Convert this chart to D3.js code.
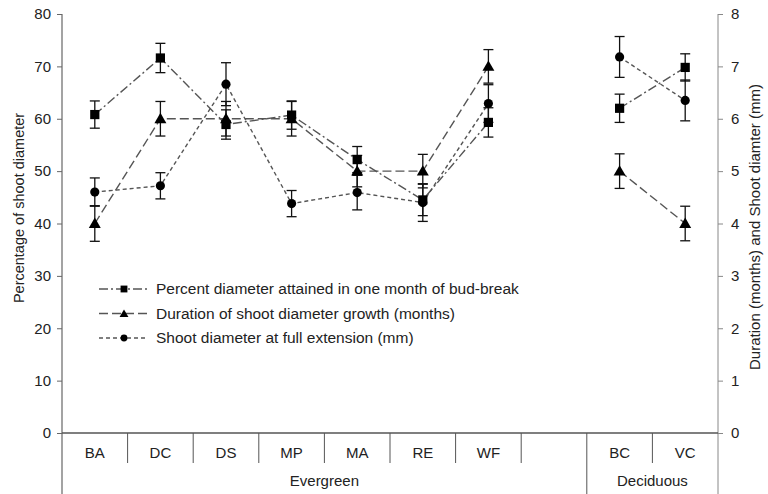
<!DOCTYPE html>
<html>
<head>
<meta charset="utf-8">
<script src="https://cdn.jsdelivr.net/npm/d3@7"></script>
<style>
  body { margin: 0; background: #fff; }
  text { font-family: "Liberation Sans", Arial, sans-serif; fill: #222; }
</style>
</head>
<body>
<div class="chart"></div>
<script>
// categories (the blank slot separates the two groups)
const categories = ["BA", "DC", "DS", "MP", "MA", "RE", "WF", "_", "BC", "VC"];
const groups = [
  { name: "Evergreen", first: "BA", last: "_" },
  { name: "Deciduous", first: "BC", last: "VC" }
];
const leftTicks = [0, 10, 20, 30, 40, 50, 60, 70, 80];
const rightTicks = [0, 1, 2, 3, 4, 5, 6, 7, 8];

// series values (null = no value in the blank slot)
const percentVals = [60.8, 71.6, 58.9, 60.7, 52.2, 44.5, 59.3, null, 62.0, 69.8];
const percentErr  = [2.6, 2.8, 2.8, 2.7, 2.5, 3.0, 2.8, null, 2.7, 2.6];
const durationVals = [4, 6, 6, 6, 5, 5, 7, null, 5, 4];
const durationErr  = [0.34, 0.33, 0.33, 0.33, 0.3, 0.32, 0.32, null, 0.33, 0.33];
const diameterVals = [4.6, 4.72, 6.66, 4.38, 4.59, 4.4, 6.29, null, 7.18, 6.35];
const diameterErr  = [0.27, 0.25, 0.41, 0.25, 0.33, 0.36, 0.36, null, 0.39, 0.39];

const seriesNames = [
  "Percent diameter attained in one month of bud-break",
  "Duration of shoot diameter growth (months)",
  "Shoot diameter at full extension (mm)"
];

const W = 768, H = 494;
const margin = { top: 14, right: 50, bottom: 61, left: 62 };

const svg = d3.select('.chart').append('svg')
  .attr('width', W)
  .attr('height', H);

const x = d3.scaleBand()
  .domain(categories)
  .range([margin.left, W - margin.right])
  .padding(0);

const yLeft = d3.scaleLinear().domain([0, 80]).range([H - margin.bottom, margin.top]);
const yRight = d3.scaleLinear().domain([0, 8]).range([H - margin.bottom, margin.top]);

const y0 = H - margin.bottom;
const cx = d => x(d) + x.bandwidth() / 2;

// left axis
const gl = svg.append('g')
  .attr('transform', `translate(${margin.left},0)`)
  .call(d3.axisLeft(yLeft).tickValues(leftTicks).tickSize(5).tickPadding(6));
gl.select('.domain').remove();
gl.selectAll('line').attr('stroke', '#666');
gl.selectAll('text').style('font-size', '15px').attr('fill', '#222');

// right axis
const gr = svg.append('g')
  .attr('transform', `translate(${W - margin.right},0)`)
  .call(d3.axisRight(yRight).tickValues(rightTicks).tickSize(5).tickPadding(8));
gr.select('.domain').remove();
gr.selectAll('line').attr('stroke', '#888');
gr.selectAll('text').style('font-size', '15px').attr('fill', '#222');

// axis lines run down through the label rows
svg.append('line')
  .attr('x1', margin.left).attr('x2', margin.left)
  .attr('y1', margin.top).attr('y2', H)
  .attr('stroke', '#666').attr('stroke-width', 1.2);
svg.append('line')
  .attr('x1', W - margin.right).attr('x2', W - margin.right)
  .attr('y1', margin.top).attr('y2', H)
  .attr('stroke', '#888').attr('stroke-width', 1);
svg.append('line')
  .attr('x1', margin.left).attr('x2', W - margin.right)
  .attr('y1', y0).attr('y2', y0)
  .attr('stroke', '#555').attr('stroke-width', 1.5);

// category dividers and labels
const groupStarts = groups.map(g => g.first);
svg.selectAll('.cat-div')
  .data(categories.slice(1))
  .enter()
  .append('line')
  .attr('class', 'cat-div')
  .attr('x1', d => x(d)).attr('x2', d => x(d))
  .attr('y1', y0)
  .attr('y2', d => groupStarts.includes(d) ? H : y0 + 30)
  .attr('stroke', '#555').attr('stroke-width', 1);

svg.selectAll('.cat-label')
  .data(categories.filter(d => d !== '_'))
  .enter()
  .append('text')
  .attr('class', 'cat-label')
  .attr('x', d => cx(d))
  .attr('y', y0 + 25)
  .attr('text-anchor', 'middle')
  .style('font-size', '15px')
  .text(d => d);

svg.selectAll('.group-label')
  .data(groups)
  .enter()
  .append('text')
  .attr('class', 'group-label')
  .attr('x', g => (x(g.first) + x(g.last) + x.bandwidth()) / 2)
  .attr('y', y0 + 53)
  .attr('text-anchor', 'middle')
  .style('font-size', '15px')
  .text(g => g.name);

// axis titles
svg.append('text')
  .attr('transform', 'rotate(-90)')
  .attr('x', -208)
  .attr('y', 24)
  .attr('text-anchor', 'middle')
  .style('font-size', '14.5px')
  .text('Percentage of shoot diameter');

svg.append('text')
  .attr('transform', 'rotate(-90)')
  .attr('x', -227)
  .attr('y', W - 8)
  .attr('text-anchor', 'middle')
  .style('font-size', '15px')
  .text('Duration (months) and Shoot diamter (mm)');

// series definitions
const series = [
  { name: seriesNames[0], vals: percentVals, err: percentErr, y: yLeft,
    dash: '9,3,2,3', symbol: d3.symbolSquare, size: 85 },
  { name: seriesNames[1], vals: durationVals, err: durationErr, y: yRight,
    dash: '9,4', symbol: d3.symbolTriangle, size: 62 },
  { name: seriesNames[2], vals: diameterVals, err: diameterErr, y: yRight,
    dash: '4,3', symbol: d3.symbolCircle, size: 66 }
];

const line = d3.line()
  .defined(d => d.v != null)
  .x(d => cx(d.c))
  .y(d => d.y(d.v));

series.forEach(s => {
  const pts = categories.map((c, i) => ({ c, v: s.vals[i], e: s.err[i], y: s.y }));
  svg.append('path')
    .datum(pts)
    .attr('d', line)
    .attr('fill', 'none')
    .attr('stroke', '#555')
    .attr('stroke-width', 1.4)
    .attr('stroke-dasharray', s.dash);
  s.pts = pts.filter(p => p.v != null);
});

// error bars
series.forEach(s => {
  const eb = svg.append('g');
  eb.selectAll('.err-v')
    .data(s.pts)
    .enter()
    .append('line')
    .attr('x1', d => cx(d.c)).attr('x2', d => cx(d.c))
    .attr('y1', d => s.y(d.v - d.e)).attr('y2', d => s.y(d.v + d.e))
    .attr('stroke', '#111').attr('stroke-width', 1.3);
  [1, -1].forEach(sign => {
    eb.selectAll('.cap' + sign)
      .data(s.pts)
      .enter()
      .append('line')
      .attr('x1', d => cx(d.c) - 5).attr('x2', d => cx(d.c) + 5)
      .attr('y1', d => s.y(d.v + sign * d.e)).attr('y2', d => s.y(d.v + sign * d.e))
      .attr('stroke', '#111').attr('stroke-width', 1.3);
  });
});

// markers
series.forEach(s => {
  svg.append('g').selectAll('path')
    .data(s.pts)
    .enter()
    .append('path')
    .attr('transform', d => `translate(${cx(d.c)},${s.y(d.v) + (s.symbol === d3.symbolTriangle ? 1 : 0)})`)
    .attr('d', d3.symbol().type(s.symbol).size(s.size))
    .attr('fill', '#000');
});

// legend
const legend = svg.append('g').attr('transform', 'translate(99,289)');
const rowH = 24.5;
series.forEach((s, i) => {
  const g = legend.append('g').attr('transform', `translate(0,${i * rowH})`);
  g.append('line')
    .attr('x1', 0).attr('x2', 48)
    .attr('stroke', '#555').attr('stroke-width', 1.4)
    .attr('stroke-dasharray', s.dash);
  g.append('path')
    .attr('transform', `translate(25,${s.symbol === d3.symbolTriangle ? 1 : 0})`)
    .attr('d', d3.symbol().type(s.symbol).size(s.size * 0.55))
    .attr('fill', '#000');
  g.append('text')
    .attr('x', 57)
    .attr('dy', '0.35em')
    .style('font-size', '15.5px')
    .text(s.name);
});
</script>
</body>
</html>
